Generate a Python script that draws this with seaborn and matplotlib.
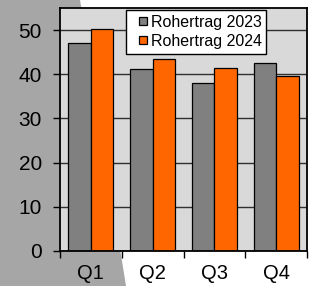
import matplotlib
matplotlib.use('Agg')
import pandas as pd
import seaborn as sns
from matplotlib import pyplot as plt
from matplotlib.legend_handler import HandlerPatch
from matplotlib.patches import Polygon, Rectangle


quarters = ['Q1', 'Q2', 'Q3', 'Q4']
ertrag_2023 = [47.0, 41.2, 38.0, 42.5]
ertrag_2024 = [50.2, 43.4, 41.4, 39.6]
series = ['Rohertrag 2023', 'Rohertrag 2024']
yticks = [0, 10, 20, 30, 40, 50]

sns.set_style('white')
plt.rcParams['font.family'] = ['Liberation Sans', 'DejaVu Sans']
plt.rcParams['text.color'] = 'black'
plt.rcParams['xtick.color'] = 'black'
plt.rcParams['ytick.color'] = 'black'

df = pd.DataFrame({
    'quartal': quarters * 2,
    'wert': ertrag_2023 + ertrag_2024,
    'serie': [series[0]] * 4 + [series[1]] * 4,
})


# Small square legend key pushed to the right end of the handle box.
def _square_key(legend, orig_handle, xdescent, ydescent, width, height, fontsize):
    side = 8 * 72 / 100
    return Rectangle((width - side - xdescent, (height - side) / 2 - ydescent), side, side)


fig = plt.figure(figsize=(3.09, 2.86), dpi=100)
fig.patch.set_facecolor('white')

# Grey slanted shape behind the chart.
fig.patches.append(Polygon([(0, 1), (80 / 309, 1), (126 / 309, 0), (0, 0)],
                           closed=True, transform=fig.transFigure,
                           facecolor='#a6a6a6', edgecolor='none', zorder=-1))

ax = fig.add_axes([60 / 309, 35 / 286, 247 / 309, 243 / 286])
ax.set_zorder(1)
ax.set_facecolor('#d9d9d9')
ax.set_axisbelow(True)

sns.barplot(data=df, x='quartal', y='wert', hue='serie', ax=ax,
            palette=['#808080', '#ff6600'], width=0.73, gap=0,
            edgecolor='black', linewidth=0.9, saturation=1, errorbar=None)

ax.set_xlim(-0.5, 3.5)
ax.set_ylim(0, 55)
ax.set_yticks(yticks)
ax.yaxis.grid(True, color='#303030', linewidth=1)
ax.set_xlabel('')
ax.set_ylabel('')

ax.set_xticks([-0.5, 0.5, 1.5, 2.5, 3.5], minor=True)
ax.tick_params(axis='x', which='major', length=0, pad=9.5, labelsize=14.5)
ax.tick_params(axis='x', which='minor', length=5, width=1, direction='out', bottom=True)
ax.tick_params(axis='y', length=5, width=1, direction='out', left=True, pad=8, labelsize=15)

for side in ['left', 'bottom', 'top', 'right']:
    ax.spines[side].set_visible(True)
    ax.spines[side].set_color('black')
    ax.spines[side].set_linewidth(1.3)

handles, labels = ax.get_legend_handles_labels()
leg = ax.legend(handles, labels, loc='upper left', bbox_to_anchor=(0.267, 1 - 2 / 243),
                borderaxespad=0, frameon=True, fancybox=False, framealpha=1,
                edgecolor='black', fontsize=11.5, handlelength=1.0, handleheight=0.6,
                handletextpad=0.25, labelspacing=0.25, borderpad=0.3,
                handler_map={h: HandlerPatch(patch_func=_square_key) for h in handles})
leg.get_frame().set_linewidth(1)

fig.savefig('out.png', dpi=100)
plt.close(fig)
